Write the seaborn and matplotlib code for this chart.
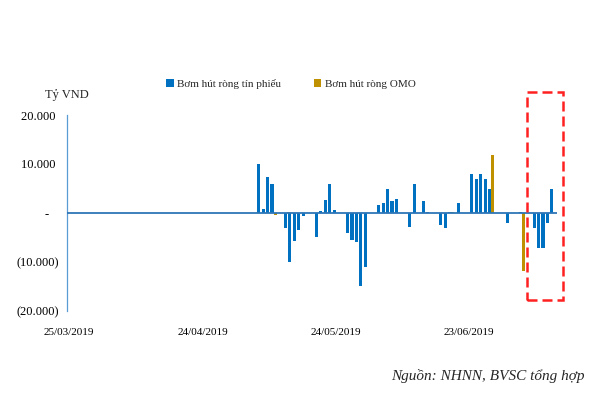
import pandas as pd
import matplotlib
matplotlib.use('Agg')
import matplotlib.pyplot as plt
from matplotlib.patches import Rectangle
import seaborn as sns

sns.set_theme(style='white')
plt.rcParams['font.family'] = ['Liberation Serif', 'DejaVu Serif']

start = '25/03/2019'

# Bơm hút ròng tín phiếu (tỷ VND)
bill_dates = ['07/05', '08/05', '09/05', '10/05', '13/05', '14/05', '15/05', '16/05', '17/05',
              '20/05', '21/05', '22/05', '23/05', '24/05', '27/05', '28/05', '29/05', '30/05',
              '31/05', '03/06', '04/06', '05/06', '06/06', '07/06', '10/06', '11/06', '13/06',
              '14/06', '17/06', '18/06', '19/06', '21/06', '24/06', '25/06', '26/06', '27/06',
              '28/06', '02/07', '05/07', '08/07', '09/07', '10/07', '11/07', '12/07']
bill_values = [10000, 750, 7300, 5850, -3000, -10000, -5700, -3550, -700,
               -4800, 350, 2700, 5900, 550, -4000, -5450, -6000, -14800,
               -10950, 1700, 2000, 4900, 2500, 2900, -2800, 5900, 2500,
               300, -2400, -3050, 300, 1950, 8000, 7000, 8000, 7000,
               4900, -2100, 300, -3000, -7150, -7150, -2100, 4900]

# Bơm hút ròng OMO (tỷ VND)
omo_dates = ['10/05', '13/05', '19/06', '28/06', '05/07']
omo_values = [-400, 300, 300, 11900, -11900]

tick_dates = ['25/03/2019', '24/04/2019', '24/05/2019', '23/06/2019']
y_ticks = [-20000, -10000, 0, 10000, 20000]

series_names = ['Bơm hút ròng tín phiếu', 'Bơm hút ròng OMO']
colors = ['#0070C0', '#BF9000']

t0 = pd.to_datetime(start, dayfirst=True)


def day_no(d):
    return (pd.to_datetime(d, dayfirst=True) - t0).days


df = pd.concat([
    pd.DataFrame({'date': [d + '/2019' for d in bill_dates], 'value': bill_values,
                  'series': series_names[0]}),
    pd.DataFrame({'date': [d + '/2019' for d in omo_dates], 'value': omo_values,
                  'series': series_names[1]}),
])
df['day'] = df['date'].apply(day_no)

fig = plt.figure(figsize=(6, 4), dpi=100)
ax = fig.add_axes([67 / 600, 1 - 311 / 400, 490 / 600, 196 / 400])

sns.barplot(data=df, x='day', y='value', hue='series', hue_order=series_names,
            palette=colors, native_scale=True, dodge=True, width=1.4,
            saturation=1, linewidth=0, ax=ax)

ax.axhline(0, color='#2E75B6', lw=1.3, zorder=3)
ax.set_xlim(-0.5, 109.8)
ax.set_ylim(-20000, 20000)


def fmt(v):
    if v == 0:
        return '-   '
    s = f'{abs(v):,}'.replace(',', '.')
    return f'({s})' if v < 0 else s + ' '


ax.set_yticks(y_ticks)
ax.set_yticklabels([fmt(v) for v in y_ticks], fontsize=9)
ax.set_xticks([day_no(d) for d in tick_dates])
ax.set_xticklabels(tick_dates, fontsize=8)
ax.tick_params(axis='both', length=0, colors='black')
ax.tick_params(axis='y', pad=6)
ax.tick_params(axis='x', pad=12)
ax.set_xlabel('')
ax.set_ylabel('')

for s in ['top', 'right', 'bottom']:
    ax.spines[s].set_visible(False)
ax.spines['left'].set_color('#5B9BD5')
ax.spines['left'].set_linewidth(0.9)

handles, labels = ax.get_legend_handles_labels()
ax.legend(handles, labels, loc='center', bbox_to_anchor=(0.485, 0.79),
          bbox_transform=fig.transFigure, ncol=2, frameon=False, fontsize=8,
          handlelength=0.7, handleheight=0.7, handletextpad=0.3, columnspacing=2.9)

fig.text(45 / 600, 1 - 95 / 400, 'Tỷ VND', fontsize=9, va='center', ha='left')
fig.text(585 / 600, 1 - 376 / 400, 'Nguồn: NHNN, BVSC tổng hợp', fontsize=11,
         style='italic', ha='right', va='center')

fig.patches.append(Rectangle((527 / 600, 1 - 300 / 400), 36 / 600, 208 / 400,
                             transform=fig.transFigure, fill=False, edgecolor='#FF2020',
                             linewidth=1.8, linestyle=(0, (4, 2))))

fig.savefig('out.png', dpi=100)
